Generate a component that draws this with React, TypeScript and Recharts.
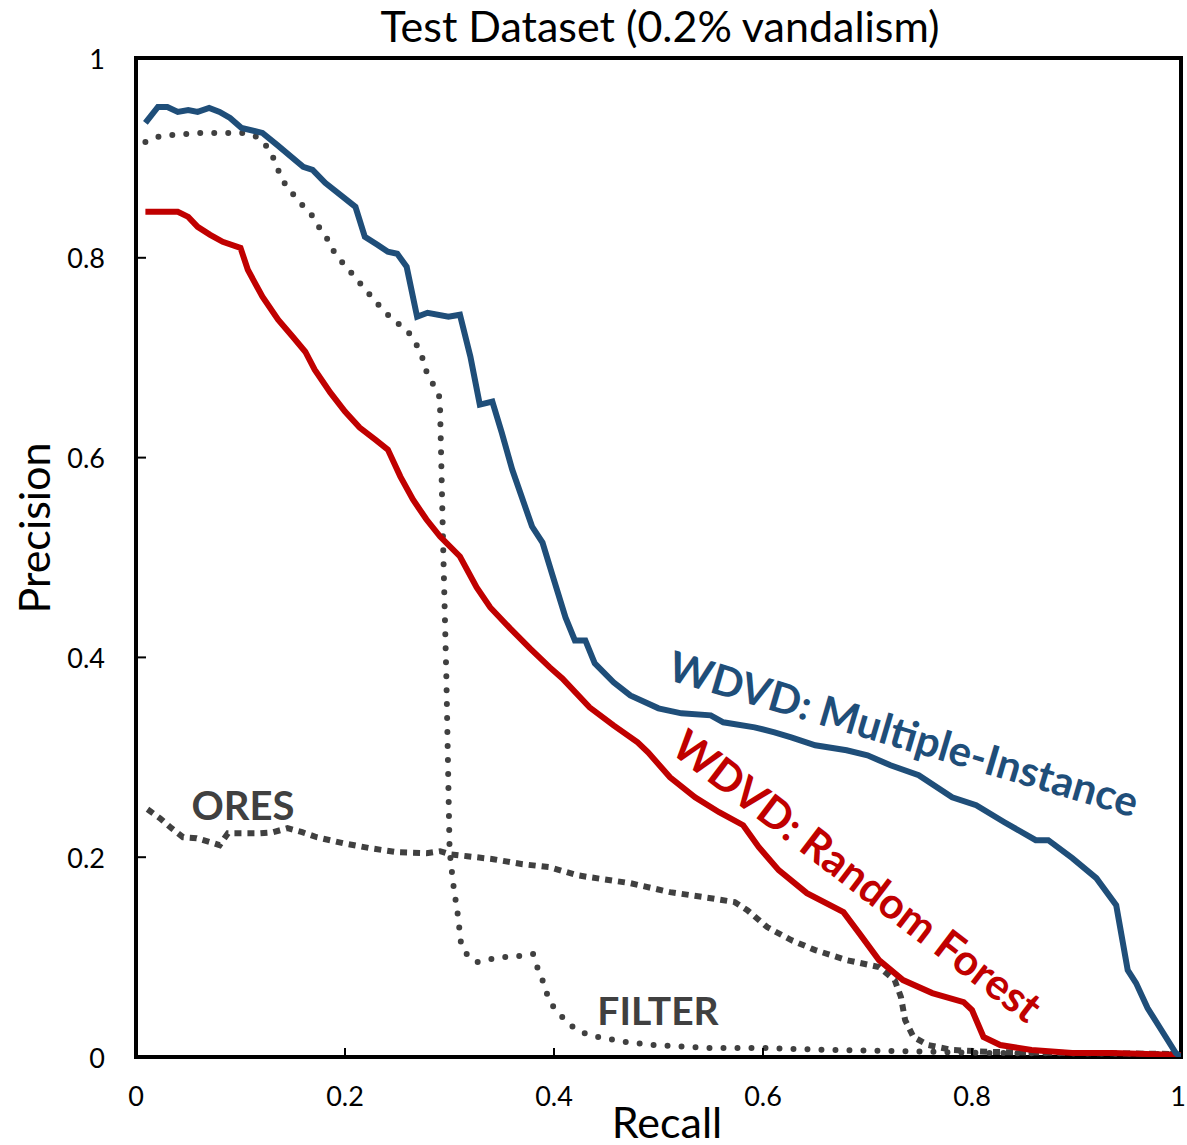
import { LineChart, Line, XAxis, YAxis, ReferenceArea } from "recharts";

// Precision/recall curves
const miRecall = [0.009, 0.021, 0.03, 0.04, 0.05, 0.059, 0.07, 0.08, 0.09, 0.101, 0.121, 0.135, 0.16, 0.169, 0.181, 0.198, 0.21, 0.219, 0.231, 0.241, 0.25, 0.259, 0.269, 0.279, 0.299, 0.31, 0.32, 0.329, 0.341, 0.35, 0.36, 0.369, 0.379, 0.389, 0.398, 0.411, 0.42, 0.43, 0.439, 0.457, 0.473, 0.5, 0.522, 0.55, 0.562, 0.592, 0.611, 0.627, 0.65, 0.68, 0.7, 0.722, 0.749, 0.781, 0.804, 0.831, 0.861, 0.873, 0.896, 0.919, 0.938, 0.949, 0.957, 0.968, 0.98, 0.995, 1.0];
const miPrecision = [0.935, 0.951, 0.951, 0.946, 0.948, 0.946, 0.95, 0.946, 0.94, 0.93, 0.925, 0.913, 0.891, 0.888, 0.875, 0.861, 0.851, 0.821, 0.813, 0.806, 0.804, 0.791, 0.741, 0.745, 0.741, 0.743, 0.701, 0.653, 0.656, 0.625, 0.588, 0.561, 0.531, 0.515, 0.484, 0.44, 0.417, 0.417, 0.394, 0.375, 0.362, 0.349, 0.344, 0.342, 0.335, 0.33, 0.325, 0.32, 0.312, 0.307, 0.302, 0.292, 0.282, 0.26, 0.252, 0.235, 0.217, 0.217, 0.199, 0.179, 0.152, 0.087, 0.074, 0.049, 0.029, 0.004, 0.0];

const rfRecall = [0.009, 0.04, 0.05, 0.059, 0.071, 0.083, 0.1, 0.107, 0.121, 0.136, 0.15, 0.162, 0.171, 0.186, 0.2, 0.214, 0.229, 0.241, 0.253, 0.265, 0.278, 0.291, 0.31, 0.326, 0.339, 0.358, 0.377, 0.396, 0.408, 0.434, 0.457, 0.48, 0.49, 0.511, 0.535, 0.558, 0.581, 0.596, 0.615, 0.642, 0.677, 0.692, 0.711, 0.734, 0.762, 0.792, 0.8, 0.811, 0.827, 0.857, 0.896, 0.934, 1.0];
const rfPrecision = [0.846, 0.846, 0.841, 0.831, 0.823, 0.816, 0.81, 0.788, 0.761, 0.738, 0.721, 0.706, 0.688, 0.665, 0.646, 0.63, 0.618, 0.608, 0.581, 0.558, 0.538, 0.521, 0.501, 0.47, 0.45, 0.429, 0.409, 0.39, 0.379, 0.35, 0.332, 0.315, 0.305, 0.28, 0.26, 0.245, 0.232, 0.21, 0.187, 0.164, 0.145, 0.124, 0.097, 0.077, 0.064, 0.055, 0.047, 0.02, 0.012, 0.007, 0.004, 0.004, 0.002];

const filterRecall = [0.009, 0.021, 0.035, 0.061, 0.102, 0.116, 0.124, 0.131, 0.136, 0.142, 0.15, 0.159, 0.168, 0.175, 0.183, 0.189, 0.197, 0.206, 0.214, 0.223, 0.232, 0.241, 0.251, 0.261, 0.269, 0.274, 0.278, 0.284, 0.29, 0.291, 0.294, 0.297, 0.299, 0.3, 0.301, 0.304, 0.308, 0.311, 0.317, 0.326, 0.34, 0.353, 0.367, 0.38, 0.384, 0.389, 0.393, 0.399, 0.408, 0.417, 0.429, 0.442, 0.469, 0.496, 0.55, 0.6, 0.665, 0.722, 0.819, 1.0];
const filterPrecision = [0.916, 0.921, 0.923, 0.925, 0.925, 0.921, 0.913, 0.901, 0.888, 0.875, 0.864, 0.853, 0.843, 0.831, 0.819, 0.807, 0.796, 0.785, 0.775, 0.764, 0.753, 0.743, 0.734, 0.725, 0.712, 0.7, 0.686, 0.674, 0.662, 0.648, 0.508, 0.38, 0.268, 0.212, 0.197, 0.17, 0.142, 0.114, 0.102, 0.095, 0.098, 0.1, 0.101, 0.103, 0.09, 0.077, 0.064, 0.051, 0.04, 0.031, 0.024, 0.02, 0.015, 0.012, 0.009, 0.009, 0.007, 0.006, 0.004, 0.003];

const oresRecall = [0.011, 0.023, 0.034, 0.045, 0.058, 0.071, 0.08, 0.088, 0.102, 0.119, 0.131, 0.145, 0.159, 0.173, 0.198, 0.224, 0.25, 0.278, 0.291, 0.3, 0.317, 0.342, 0.37, 0.396, 0.422, 0.434, 0.473, 0.511, 0.55, 0.573, 0.585, 0.604, 0.627, 0.65, 0.68, 0.711, 0.726, 0.732, 0.736, 0.744, 0.758, 0.781, 0.819, 0.896, 0.995];
const oresPrecision = [0.248, 0.239, 0.229, 0.22, 0.219, 0.215, 0.212, 0.224, 0.224, 0.224, 0.225, 0.229, 0.225, 0.22, 0.214, 0.209, 0.205, 0.204, 0.206, 0.203, 0.201, 0.198, 0.193, 0.19, 0.182, 0.18, 0.174, 0.165, 0.159, 0.155, 0.147, 0.13, 0.117, 0.107, 0.097, 0.09, 0.077, 0.06, 0.037, 0.02, 0.012, 0.007, 0.005, 0.004, 0.003];

const xTicks = [0, 0.2, 0.4, 0.6, 0.8, 1];
const yTicks = [0, 0.2, 0.4, 0.6, 0.8, 1];

const zip = (xs: number[], ys: number[]) => xs.map((x, i) => ({ x, y: ys[i] }));

const FONT = "Lato, 'Open Sans', sans-serif";
const BLUE = "#1F4E79";
const RED = "#C00000";
const GRAY = "#404040";

function XTick(props: any) {
  const { x, y, payload } = props;
  const v = payload.value;
  // the last label sits against the right edge, so anchor it by its end
  const last = v === 1;
  return (
    <g>
      {v > 0 && v < 1 && <line x1={x} x2={x} y1={y} y2={y - 9} stroke="#000" strokeWidth={2} />}
      <text x={last ? x + 5 : x} y={y + 38} textAnchor={last ? "end" : "middle"} dominantBaseline="central" fontSize={27} fill="#000" fontFamily={FONT}>
        {String(v)}
      </text>
    </g>
  );
}

function YTick(props: any) {
  const { x, y, payload } = props;
  const v = payload.value;
  return (
    <g>
      {v > 0 && v < 1 && <line x1={x} x2={x + 10} y1={y} y2={y} stroke="#000" strokeWidth={2} />}
      <text x={x - 31} y={y} textAnchor="end" dominantBaseline="central" fontSize={27} fill="#000" fontFamily={FONT}>
        {String(v)}
      </text>
    </g>
  );
}

export default function App() {
  return (
    <div style={{ width: 1187, height: 1145, background: "#fff", position: "relative" }}>
      <style>{`body{margin:0;}`}</style>
      <LineChart width={1187} height={1145} margin={{ top: 58, right: 6, bottom: 28, left: 36 }}>
        <XAxis
          type="number"
          dataKey="x"
          domain={[0, 1]}
          ticks={xTicks}
          tickSize={0}
          tickMargin={0}
          height={60}
          axisLine={false}
          tick={<XTick />}
          allowDataOverflow
        />
        <YAxis
          type="number"
          dataKey="y"
          domain={[0, 1]}
          ticks={yTicks}
          tickSize={0}
          tickMargin={0}
          width={100}
          axisLine={false}
          tick={<YTick />}
          allowDataOverflow
        />
        <ReferenceArea x1={0} x2={1} y1={0} y2={1} fill="none" stroke="#000" strokeWidth={4} ifOverflow="visible" />
        <Line data={zip(oresRecall, oresPrecision)} dataKey="y" type="linear" stroke={GRAY} strokeWidth={6} strokeDasharray="7 6" dot={false} isAnimationActive={false} />
        <Line data={zip(filterRecall, filterPrecision)} dataKey="y" type="linear" stroke={GRAY} strokeWidth={6} strokeDasharray="0 14" strokeLinecap="round" dot={false} isAnimationActive={false} />
        <Line data={zip(rfRecall, rfPrecision)} dataKey="y" type="linear" stroke={RED} strokeWidth={6} dot={false} isAnimationActive={false} />
        <Line data={zip(miRecall, miPrecision)} dataKey="y" type="linear" stroke={BLUE} strokeWidth={6} dot={false} isAnimationActive={false} />
      </LineChart>
      <svg width={1187} height={1145} style={{ position: "absolute", left: 0, top: 0, pointerEvents: "none" }}>
        <text x={660} y={25} textAnchor="middle" dominantBaseline="central" fontSize={43} fontFamily={FONT} fill="#000">
          Test Dataset (0.2% vandalism)
        </text>
        <text x={667} y={1121} textAnchor="middle" dominantBaseline="central" fontSize={43} fontFamily={FONT} fill="#000">
          Recall
        </text>
        <text x={33} y={528} textAnchor="middle" dominantBaseline="central" fontSize={43} fontFamily={FONT} fill="#000" transform="rotate(-90 33 528)">
          Precision
        </text>
        <text x={243} y={805} textAnchor="middle" dominantBaseline="central" fontSize={40} fontWeight="bold" fontFamily={FONT} fill={GRAY}>
          ORES
        </text>
        <text x={658} y={1010} textAnchor="middle" dominantBaseline="central" fontSize={39} fontWeight="bold" fontFamily={FONT} fill={GRAY}>
          FILTER
        </text>
        <text x={904} y={733} textAnchor="middle" dominantBaseline="central" fontSize={42} fontWeight="bold" fontFamily={FONT} fill={BLUE} transform="rotate(16.5 904 733)">
          WDVD: Multiple-Instance
        </text>
        <text x={858} y={875} textAnchor="middle" dominantBaseline="central" fontSize={43} fontWeight="bold" fontFamily={FONT} fill={RED} transform="rotate(37.3 858 875)">
          WDVD: Random Forest
        </text>
      </svg>
    </div>
  );
}
